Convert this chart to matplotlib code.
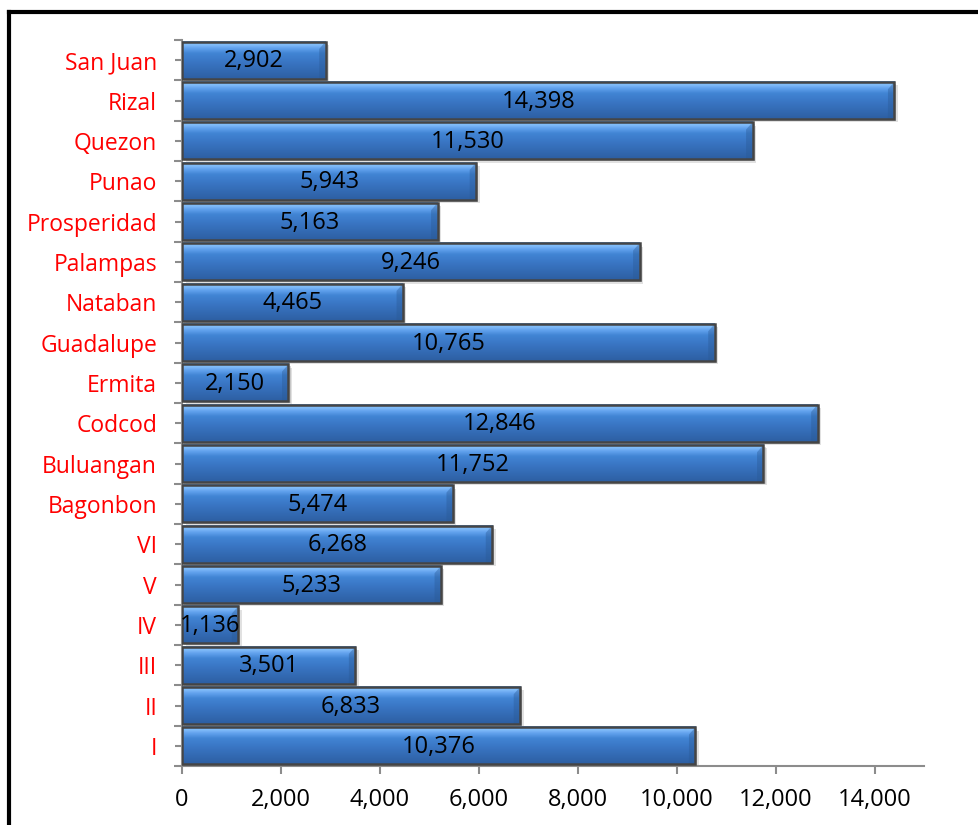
import numpy as np
import matplotlib.pyplot as plt
from matplotlib.lines import Line2D
from matplotlib.patches import Rectangle, Polygon
from matplotlib.colors import LinearSegmentedColormap

plt.rcParams['font.family'] = ['Open Sans', 'DejaVu Sans']

# population per barangay / district
barangays = ['I', 'II', 'III', 'IV', 'V', 'VI', 'Bagonbon', 'Buluangan',
             'Codcod', 'Ermita', 'Guadalupe', 'Nataban', 'Palampas',
             'Prosperidad', 'Punao', 'Quezon', 'Rizal', 'San Juan']
population = [10376, 6833, 3501, 1136, 5233, 6268, 5474, 11752,
              12846, 2150, 10765, 4465, 9246, 5163, 5943, 11530, 14398, 2902]
xticks = [0, 2000, 4000, 6000, 8000, 10000, 12000, 14000]

fig = plt.figure(figsize=(9.79, 8.25), dpi=100)
ax = fig.add_axes([0.186, 0.0715, 0.758, 0.88])

# bevelled blue fill: light top edge, darker lower half
blue = LinearSegmentedColormap.from_list('bevel', [
    (0.0, '#2d5fa2'), (0.4, '#3873c0'), (0.68, '#4184d4'),
    (0.82, '#62a2ee'), (0.92, '#86c0fa'), (1.0, '#5b9be4')])
grad = np.linspace(0, 1, 64).reshape(-1, 1)

h = 0.92
sx = 70      # shadow offset (data units)
sy = 0.08
for i, v in enumerate(population):
    # soft drop shadow
    for k, a in [(1.0, 0.25), (0.6, 0.3)]:
        ax.add_patch(Rectangle((sx * k, i - h / 2 - sy * k), v, h,
                               facecolor='#8a8a8a', edgecolor='none',
                               alpha=a, zorder=1))
    ax.imshow(grad, cmap=blue, aspect='auto', origin='lower',
              extent=[0, v, i - h / 2, i + h / 2], zorder=2,
              interpolation='bicubic')
    # right-end bevel
    bw = min(130, v * 0.3)
    ax.add_patch(Polygon([(v - bw, i + h / 2 - 0.18), (v, i + h / 2),
                          (v, i - h / 2), (v - bw, i - h / 2)],
                         closed=True, facecolor='#2a5a96', alpha=0.4,
                         edgecolor='none', zorder=3))
    ax.add_patch(Rectangle((0, i - h / 2), v, h, facecolor='none',
                           edgecolor='#454545', linewidth=1.8, zorder=4))
    ax.text(v / 2, i - 0.03, f'{v:,}', ha='center', va='center',
            fontsize=17, color='black', zorder=5)

ax.set_xlim(0, 15000)
ax.set_ylim(-0.5, len(barangays) - 0.5)
ax.set_xticks(xticks)
ax.set_xticklabels([f'{t:,}' for t in xticks], fontsize=17)
ax.set_yticks(range(len(barangays)))
ax.set_yticklabels(barangays, fontsize=16.5, color='red')
ax.set_yticks(np.arange(-0.5, len(barangays), 1), minor=True)

for s in ['top', 'right']:
    ax.spines[s].set_visible(False)
for s in ['left', 'bottom']:
    ax.spines[s].set_color('#8c8c8c')
    ax.spines[s].set_linewidth(1.5)
ax.tick_params(axis='x', length=6, width=1.5, color='#8c8c8c', pad=10)
ax.tick_params(axis='y', which='major', length=5, width=1.5, color='#8c8c8c', pad=13)
ax.tick_params(axis='y', which='minor', length=6, width=1.5, color='#8c8c8c')

# black frame around the chart
fig.add_artist(Line2D([9 / 979, 9 / 979], [0, 1 - 12 / 825], color='black',
                      linewidth=3, transform=fig.transFigure))
fig.add_artist(Line2D([9 / 979, 1], [1 - 12 / 825, 1 - 12 / 825], color='black',
                      linewidth=3, transform=fig.transFigure))

fig.savefig('out.png', dpi=100)
